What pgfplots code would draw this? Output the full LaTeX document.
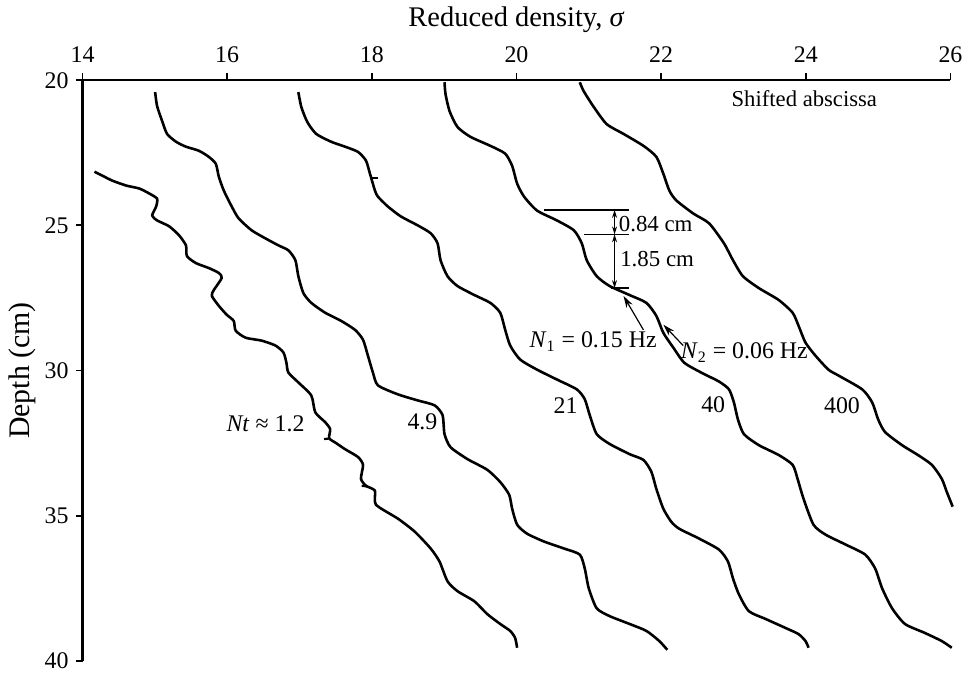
\documentclass[border=0pt]{standalone}
\usepackage{pgfplots}
\pgfplotsset{compat=1.18}
\usepackage{fontspec}
\setmainfont{Liberation Serif}
\usetikzlibrary{arrows.meta}

% density profiles (sigma, depth in cm)
\pgfplotstableread{
x y
14.165 23.15
14.275 23.29
14.413 23.46
14.605 23.63
14.784 23.73
14.921 23.90
15.031 24.08
15.018 24.35
14.963 24.66
15.031 24.83
15.196 25.03
15.334 25.34
15.430 25.69
15.444 26.06
15.568 26.30
15.746 26.47
15.884 26.64
15.925 26.81
15.815 27.23
15.788 27.43
15.884 27.77
15.994 28.08
16.090 28.29
16.118 28.63
16.255 28.87
16.475 28.97
16.668 29.14
16.778 29.38
16.819 29.73
16.846 30.07
16.984 30.41
17.163 30.86
17.218 31.44
17.355 31.78
17.424 32.02
17.410 32.33
17.506 32.50
17.630 32.71
17.809 32.98
17.878 33.25
17.850 33.73
17.919 33.97
18.043 34.14
18.056 34.62
18.359 35.10
18.593 35.55
18.813 36.13
18.936 36.58
19.046 37.26
19.184 37.60
19.418 37.95
19.596 38.39
19.775 38.73
19.913 38.97
19.981 39.21
20.009 39.55
}\curveA

\pgfplotstableread{
x y
15.004 20.41
15.031 20.89
15.100 21.40
15.169 21.85
15.293 22.12
15.430 22.29
15.609 22.43
15.746 22.64
15.843 22.88
15.884 23.32
15.953 23.80
16.063 24.35
16.159 24.76
16.338 25.17
16.530 25.45
16.709 25.69
16.846 25.86
16.943 26.20
16.984 26.75
17.053 27.33
17.163 27.67
17.355 28.01
17.575 28.29
17.768 28.60
17.878 28.94
17.946 29.49
18.015 30.07
18.084 30.51
18.359 30.82
18.634 31.03
18.868 31.20
18.978 31.54
19.005 32.19
19.088 32.64
19.321 33.05
19.596 33.42
19.775 33.84
19.899 34.28
19.940 34.76
20.009 35.31
20.146 35.62
20.380 35.89
20.655 36.13
20.875 36.34
20.944 36.82
20.999 37.50
21.109 38.19
21.288 38.46
21.563 38.73
21.796 38.97
21.975 39.32
22.085 39.62
}\curveB

\pgfplotstableread{
x y
16.984 20.41
17.025 20.92
17.108 21.44
17.231 21.85
17.438 22.12
17.630 22.29
17.809 22.47
17.919 22.77
17.974 23.22
18.043 23.80
18.084 24.01
18.221 24.35
18.400 24.69
18.634 25.00
18.813 25.27
18.909 25.62
18.950 26.20
19.046 26.75
19.184 27.09
19.418 27.40
19.638 27.67
19.775 28.01
19.844 28.60
19.913 29.14
20.050 29.62
20.284 29.97
20.559 30.31
20.834 30.65
20.944 30.99
21.013 31.54
21.109 32.19
21.288 32.53
21.563 32.88
21.755 33.08
21.865 33.49
21.934 34.08
22.030 34.76
22.140 35.21
22.250 35.45
22.525 35.79
22.800 36.17
22.924 36.58
22.993 37.16
23.075 37.71
23.213 38.29
23.446 38.56
23.721 38.87
23.900 39.08
23.996 39.32
24.038 39.55
}\curveC

\pgfplotstableread{
x y
19.005 20.07
19.019 20.48
19.074 21.06
19.184 21.61
19.363 21.95
19.638 22.26
19.844 22.53
19.940 22.95
20.009 23.56
20.105 24.01
20.284 24.49
20.559 24.83
20.793 25.17
20.903 25.62
20.971 26.20
21.109 26.75
21.288 27.09
21.563 27.40
21.796 27.67
21.934 28.12
22.030 28.70
22.168 29.21
22.319 29.73
22.553 30.07
22.800 30.38
22.938 30.65
23.006 31.10
23.061 31.68
23.144 32.19
23.350 32.57
23.625 32.91
23.818 33.25
23.886 33.73
23.969 34.42
24.106 35.31
24.271 35.65
24.546 35.99
24.821 36.34
24.959 36.82
25.055 37.50
25.193 38.19
25.371 38.73
25.646 39.04
25.880 39.32
26.018 39.55
}\curveD

\pgfplotstableread{
x y
20.875 20.07
20.930 20.38
21.068 20.92
21.246 21.51
21.480 21.85
21.755 22.26
21.934 22.64
22.030 23.22
22.113 23.80
22.209 24.14
22.443 24.59
22.663 24.93
22.869 25.62
22.993 26.20
23.130 26.75
23.350 27.16
23.625 27.57
23.818 28.01
23.900 28.46
23.996 29.04
24.134 29.49
24.313 29.97
24.450 30.17
24.780 30.65
24.918 31.10
25.000 31.68
25.096 32.12
25.330 32.57
25.550 32.91
25.743 33.25
25.880 33.73
25.949 34.18
26.031 34.69
}\curveE

\begin{document}
\begin{tikzpicture}
\path (-41.5pt,-1.5pt) rectangle (443pt,330pt);
\begin{axis}[
  scale only axis,
  width=436.5pt, height=292pt,
  xmin=14, xmax=26, ymin=20, ymax=40,
  y dir=reverse,
  axis x line*=top, axis y line*=left,
  xtick={14,16,...,26}, ytick={20,25,...,40},
  tick align=outside,
  major tick length=3.5pt,
  tick style={line width=0.9pt, black},
  axis line style={line width=1.1pt},
  tick label style={font=\fontsize{12}{14}\selectfont},
  xticklabel style={yshift=2pt},
  /pgf/number format/assume math mode=true,
  clip=false,
  every axis plot/.append style={black, line width=1.3pt, line join=round},
]
\addplot[smooth, tension=0.4] table {\curveA};
\addplot[smooth, tension=0.4] table {\curveB};
\addplot[smooth, tension=0.4] table {\curveC};
\addplot[smooth, tension=0.4] table {\curveD};
\addplot[smooth, tension=0.4] table {\curveE};

% small recording spurs on the traces
\addplot[line width=1.1pt] coordinates {(17.98,23.36) (18.08,23.36)};
\addplot[line width=1.1pt] coordinates {(17.34,32.36) (17.42,32.34)};
\addplot[line width=1.1pt] coordinates {(17.86,33.97) (17.95,34.00)};

% step dimensions
\draw[line width=0.6pt] (axis cs:20.38,24.47) -- (axis cs:21.55,24.47);
\draw[line width=0.6pt] (axis cs:20.93,25.31) -- (axis cs:21.55,25.31);
\draw[line width=0.6pt] (axis cs:21.30,27.16) -- (axis cs:21.55,27.16);
\draw[line width=0.6pt, {Stealth[length=4pt,width=2.5pt]}-{Stealth[length=4pt,width=2.5pt]}]
  (axis cs:21.356,24.47) -- (axis cs:21.356,25.31);
\draw[line width=0.6pt, {Stealth[length=4pt,width=2.5pt]}-{Stealth[length=4pt,width=2.5pt]}]
  (axis cs:21.356,25.31) -- (axis cs:21.356,27.16);
\node[anchor=west, inner sep=0pt, font=\fontsize{11.5}{13}\selectfont] at (axis cs:21.41,24.95) {0.84 cm};
\node[anchor=west, inner sep=0pt, font=\fontsize{11.5}{13}\selectfont] at (axis cs:21.43,26.15) {1.85 cm};

% buoyancy frequencies
\draw[line width=0.6pt, -{Stealth[length=6pt,width=3.5pt]}] (axis cs:21.755,28.60) -- (axis cs:21.48,27.43);
\draw[line width=0.6pt, -{Stealth[length=6pt,width=3.5pt]}] (axis cs:22.305,29.14) -- (axis cs:22.03,28.42);
\node[inner sep=0pt, font=\fontsize{12}{14}\selectfont] at (axis cs:21.06,29.01) {\textit{N}\textsubscript{1} = 0.15 Hz};
\node[inner sep=0pt, font=\fontsize{12}{14}\selectfont] at (axis cs:23.15,29.38) {\textit{N}\textsubscript{2} = 0.06 Hz};

% curve labels
\node[font=\fontsize{12}{14}\selectfont] at (axis cs:16.53,31.85) {\textit{Nt} ≈ 1.2};
\node[font=\fontsize{12}{14}\selectfont] at (axis cs:18.70,31.78) {4.9};
\node[font=\fontsize{12}{14}\selectfont] at (axis cs:20.68,31.20) {21};
\node[font=\fontsize{12}{14}\selectfont] at (axis cs:22.72,31.16) {40};
\node[font=\fontsize{12}{14}\selectfont] at (axis cs:24.50,31.20) {400};
\node[font=\fontsize{11.4}{13}\selectfont] at (axis cs:23.98,20.65) {Shifted abscissa};

% axis titles
\node[font=\fontsize{14.3}{17}\selectfont] at ([yshift=30.5pt]axis cs:20,20) {Reduced density, \textit{σ}};
\node[font=\fontsize{15}{18}\selectfont, rotate=90] at ([xshift=-30.5pt]axis cs:14,30) {Depth (cm)};
\end{axis}
\end{tikzpicture}
\end{document}
